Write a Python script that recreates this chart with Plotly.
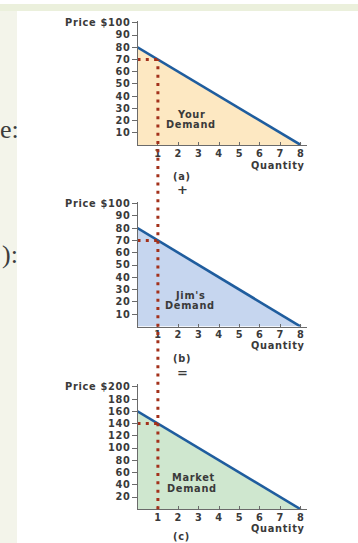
import plotly.graph_objects as go

# ---- data -------------------------------------------------------------
quantity = [0, 1, 2, 3, 4, 5, 6, 7, 8]
your_demand = [80, 70, 60, 50, 40, 30, 20, 10, 0]
jims_demand = [80, 70, 60, 50, 40, 30, 20, 10, 0]
market_demand = [160, 140, 120, 100, 80, 60, 40, 20, 0]

chosen_quantity = 1

x_ticks = [1, 2, 3, 4, 5, 6, 7, 8]
small_ticks = [10, 20, 30, 40, 50, 60, 70, 80, 90, 100]
small_labels = ["10", "20", "30", "40", "50", "60", "70", "80", "90", "Price $100"]
market_ticks = [20, 40, 60, 80, 100, 120, 140, 160, 180, 200]
market_labels = ["20", "40", "60", "80", "100", "120", "140", "160", "180", "Price $200"]

# ---- page geometry ----------------------------------------------------
W, H = 358, 543


def px(x):
    return x / W


def py(y):
    return 1 - y / H


FONT = "DejaVu Sans"
TXT = "#3a3a3a"
AXC = "#6a6a6a"
BLUE = "#1f5d9e"
RED = "#a3311b"
FS = 9.8


def wide(text, spacing=0.7):
    """Slightly letter-spaced text, like the wide sans of the original art."""
    return f'<span style="letter-spacing:{spacing}px">{text}</span>'


x_dom = [px(137.5), px(307)]
x_rng = [0, 8.31]

panels = [
    dict(values=your_demand, fill="#fde8c2", dom=[py(142), py(17)], rng=[0, 101.6],
         tv=small_ticks, tt=small_labels),
    dict(values=jims_demand, fill="#c6d6ef", dom=[py(325), py(199)], rng=[0, 101.6],
         tv=small_ticks, tt=small_labels),
    dict(values=market_demand, fill="#cfe7cf", dom=[py(509), py(383)], rng=[0, 204.4],
         tv=market_ticks, tt=market_labels),
]

fig = go.Figure()
layout = dict(
    width=W, height=H, margin=dict(l=0, r=0, t=0, b=0),
    paper_bgcolor="white", plot_bgcolor="rgba(0,0,0,0)",
    showlegend=False, font=dict(family=FONT, color=TXT, size=FS),
)

tick_font = dict(family=FONT, size=FS, color=TXT, weight="bold")

for i, p in enumerate(panels, start=1):
    xa = "x" if i == 1 else f"x{i}"
    ya = "y" if i == 1 else f"y{i}"
    # shaded area under the demand curve
    fig.add_trace(go.Scatter(
        x=quantity, y=p["values"], xaxis=xa, yaxis=ya, mode="lines",
        line=dict(color=BLUE, width=2.6), fill="tozeroy", fillcolor=p["fill"],
        hoverinfo="skip",
    ))
    # dotted guide from the price axis to the curve at the chosen quantity
    price = p["values"][quantity.index(chosen_quantity)]
    fig.add_trace(go.Scatter(
        x=[0, chosen_quantity], y=[price, price], xaxis=xa, yaxis=ya, mode="lines",
        line=dict(color=RED, width=3, dash="3px,5.3px"), hoverinfo="skip",
    ))
    layout[f"xaxis{'' if i == 1 else i}"] = dict(
        domain=x_dom, range=x_rng, anchor=ya, showgrid=False, zeroline=False,
        showline=True, linecolor=AXC, linewidth=1, ticks="inside", ticklen=3,
        tickcolor=AXC, tickvals=x_ticks, ticktext=[wide(str(v)) for v in x_ticks],
        tickfont=tick_font, ticklabelstandoff=-1, fixedrange=True,
    )
    layout[f"yaxis{'' if i == 1 else i}"] = dict(
        domain=p["dom"], range=p["rng"], anchor=xa, showgrid=False, zeroline=False,
        showline=True, linecolor=AXC, linewidth=1, ticks="outside", ticklen=5,
        tickcolor=AXC, tickvals=p["tv"], ticktext=[wide(t) for t in p["tt"]],
        tickfont=tick_font, ticklabelstandoff=-1, fixedrange=True,
    )

fig.update_layout(**layout)

# vertical dotted line at the chosen quantity, running from the top curve
# down through all three panels to the market quantity axis
top = panels[0]
top_price = top["values"][quantity.index(chosen_quantity)]
y_top = top["dom"][0] + (top_price - top["rng"][0]) / (top["rng"][1] - top["rng"][0]) * (top["dom"][1] - top["dom"][0])
fig.add_shape(type="line", xref="x", yref="paper", x0=chosen_quantity, x1=chosen_quantity,
              y0=panels[2]["dom"][0], y1=y_top, line=dict(color=RED, width=3, dash="3px,5.3px"),
              layer="above")

# slide background strips
fig.add_shape(type="rect", xref="paper", yref="paper", x0=0, x1=1, y0=py(7), y1=1,
              fillcolor="#ebf0dc", line_width=0, layer="below")
fig.add_shape(type="rect", xref="paper", yref="paper", x0=0, x1=px(17), y0=0, y1=py(7),
              fillcolor="#f3f4ea", line_width=0, layer="below")


def label(text, x, y, size=FS, anchor="center", weight="bold", family=FONT,
          color=TXT, yanchor="middle", spaced=True):
    fig.add_annotation(text=wide(text) if spaced else text, x=px(x), y=py(y),
                       xref="paper", yref="paper", xanchor=anchor, yanchor=yanchor,
                       showarrow=False, borderpad=0,
                       font=dict(family=family, size=size, color=color, weight=weight))


# curve captions
label("Your", 191, 111.5)
label("Demand", 191, 121.5)
label("Jim's", 190, 294)
label("Demand", 190, 304)
label("Market", 193, 477)
label("Demand", 192, 488)

# axis titles and panel tags
for yq in (162.5, 344.5, 528):
    label("Quantity", 306, yq, anchor="right")
label("(a)", 181.7, 173.3)
label("(b)", 181.7, 356.7)
label("(c)", 181.7, 543, yanchor="bottom")
label("+", 182, 187, size=13, spaced=False)
label("=", 182, 371, size=13, spaced=False)

# fragments of slide text at the left edge
label("e:", 19.5, 126, size=26, anchor="right", weight="normal",
      family="Liberation Serif", color="#3c3c3c", spaced=False)
label("):", 18.5, 252, size=26, anchor="right", weight="normal",
      family="Liberation Serif", color="#3c3c3c", spaced=False)

fig.write_html("out.html")
